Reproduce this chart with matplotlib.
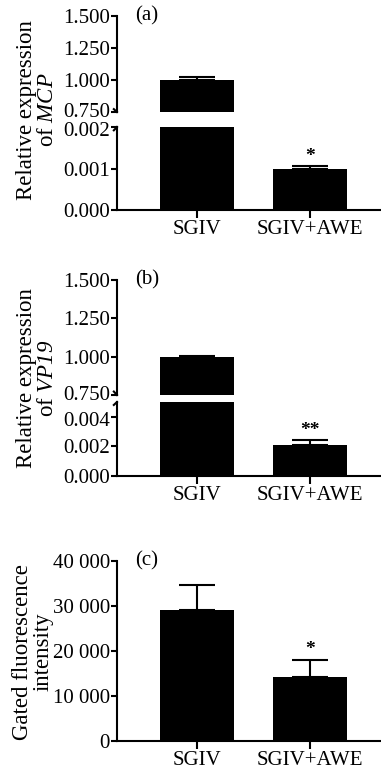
import numpy as np
import matplotlib
matplotlib.use("Agg")
from matplotlib import pyplot as plt
from matplotlib.transforms import ScaledTranslation

plt.rcParams['font.family'] = ['Liberation Serif', 'DejaVu Serif']
plt.rcParams['mathtext.fontset'] = 'custom'
# only gene names are in math mode, and they are fully italic (digits too)
plt.rcParams['mathtext.rm'] = 'Liberation Serif:italic'
plt.rcParams['mathtext.it'] = 'Liberation Serif:italic'
plt.rcParams['font.size'] = 15

groups = ['SGIV', 'SGIV+AWE']

# (a) MCP relative expression
mcp_mean = [1.0, 0.00098]
mcp_err = [0.025, 0.00007]
mcp_stars = ['', '*']

# (b) VP19 relative expression
vp19_mean = [1.0, 0.0021]
vp19_err = [0.005, 0.0003]
vp19_stars = ['', '**']

# (c) gated fluorescence intensity
gfi_mean = [29200, 14300]
gfi_err = [5500, 3800]
gfi_stars = ['', '*']

top_ticks = [0.75, 1.0, 1.25, 1.5]
top_labels = ['0.750', '1.000', '1.250', '1.500']
a_low_ticks = [0.0, 0.001, 0.002]
a_low_labels = ['0.000', '0.001', '0.002']
b_low_ticks = [0.0, 0.002, 0.004]
b_low_labels = ['0.000', '0.002', '0.004']
c_ticks = [0, 10000, 20000, 30000, 40000]
c_labels = ['0', '10 000', '20 000', '30 000', '40 000']

fig = plt.figure(figsize=(3.81, 7.70), dpi=100)
W, H = 381.0, 770.0
LEFT = 117


def make_ax(y_top, y_bot):
    return fig.add_axes([LEFT / W, 1 - y_bot / H, (W - LEFT) / W, (y_bot - y_top) / H])


def style(ax, show_x):
    ax.spines['top'].set_visible(False)
    ax.spines['right'].set_visible(False)
    ax.spines['left'].set_linewidth(1.5)
    ax.spines['bottom'].set_linewidth(1.5)
    ax.tick_params(axis='y', length=4, width=1.5, pad=1)
    ax.set_xlim(-0.71, 1.63)
    if show_x:
        ax.set_xticks([0, 1])
        ax.set_xticklabels(groups)
        ax.tick_params(axis='x', length=6, width=1.5, pad=1)
    else:
        ax.spines['bottom'].set_visible(False)
        ax.set_xticks([])


def bars(ax, mean, err, stars=None):
    x = np.arange(len(mean))
    ax.bar(x, mean, width=0.66, color='black', zorder=2)
    ax.errorbar(x, mean, yerr=[np.zeros(len(err)), err], fmt='none',
                ecolor='black', elinewidth=1.5, capsize=13, capthick=1.5, zorder=3)
    if stars:
        for xi, m, e, s in zip(x, mean, err, stars):
            if s:
                ax.annotate(s, (xi, m + e), xytext=(0, 1), textcoords='offset points',
                            ha='center', va='bottom', fontsize=14, fontweight='bold',
                            annotation_clip=False)


def break_marks(ax_top, ax_bot):
    kw = dict(color='black', lw=1.5, clip_on=False)
    ax_top.plot([0, -0.012], [0, 0.03], transform=ax_top.transAxes, **kw)
    ax_bot.plot([0, -0.012], [1, 0.96], transform=ax_bot.transAxes, **kw)


def nudge(label, dy):
    label.set_transform(label.get_transform() + ScaledTranslation(0, dy / 72, fig.dpi_scale_trans))


def broken_panel(y_top, y_mid1, y_mid2, y_bot, mean, err, stars, low_lim,
                 low_ticks, low_labels, tag, ylabel, label_y):
    ax1 = make_ax(y_top, y_mid1)
    ax2 = make_ax(y_mid2, y_bot)
    for ax in (ax1, ax2):
        bars(ax, mean, err, stars if ax is ax2 else None)
    style(ax1, False)
    style(ax2, True)
    ax1.set_ylim(0.75, 1.5)
    ax1.set_yticks(top_ticks)
    ax1.set_yticklabels(top_labels)
    ax2.set_ylim(0, low_lim)
    ax2.set_yticks(low_ticks)
    ax2.set_yticklabels(low_labels)
    # labels next to the break sit very close; pull them apart a little
    nudge(ax1.get_yticklabels()[0], 1.5)
    nudge(ax2.get_yticklabels()[-1], -1.5)
    break_marks(ax1, ax2)
    ax1.text(0.07, 1.0, tag, transform=ax1.transAxes, ha='left', va='center')
    fig.text(37 / W, 1 - label_y / H, ylabel, rotation=90, ha='center', va='center',
             linespacing=1.0, fontsize=16.5)
    return ax1, ax2


broken_panel(16, 112, 127, 210, mcp_mean, mcp_err, mcp_stars, 0.002,
             a_low_ticks, a_low_labels, '(a)',
             'Relative expression\nof $MCP$', 110)

broken_panel(280, 395, 402, 476, vp19_mean, vp19_err, vp19_stars, 0.005,
             b_low_ticks, b_low_labels, '(b)',
             'Relative expression\nof $VP19$', 378)

ax = make_ax(561, 741)
bars(ax, gfi_mean, gfi_err, gfi_stars)
style(ax, True)
ax.set_ylim(0, 40000)
ax.set_yticks(c_ticks)
ax.set_yticklabels(c_labels)
ax.text(0.07, 1.0, '(c)', transform=ax.transAxes, ha='left', va='center')
fig.text(33 / W, 1 - 652 / H, 'Gated fluorescence\nintensity', rotation=90,
         ha='center', va='center', linespacing=1.0, fontsize=16.5)

fig.savefig('out.png', dpi=100)
